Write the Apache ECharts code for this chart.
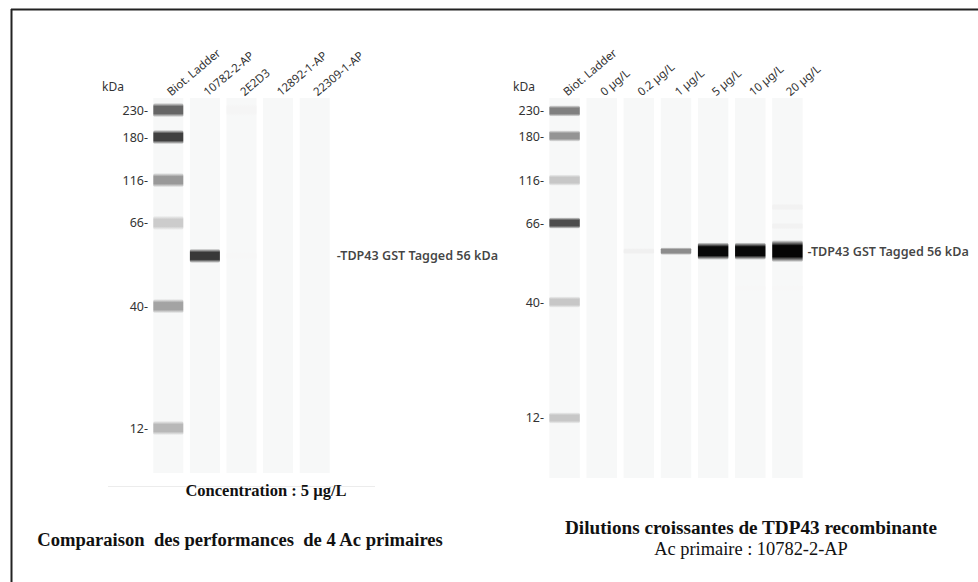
<!DOCTYPE html>
<html>
<head>
<meta charset="utf-8">
<script src="https://cdn.jsdelivr.net/npm/echarts@6/dist/echarts.min.js"></script>
<style>
html,body{margin:0;padding:0;background:#fff;}
#chart{width:978px;height:582px;}
</style>
</head>
<body>
<div id="chart"></div>
<script>
// ---- Data ----
const leftLanes = ['Biot. Ladder', '10782-2-AP', '2E2D3', '12892-1-AP', '22309-1-AP'];
const rightLanes = ['Biot. Ladder', '0 µg/L', '0.2 µg/L', '1 µg/L', '5 µg/L', '10 µg/L', '20 µg/L'];
const ladderKDa = [230, 180, 116, 66, 40, 12];
// migration position of each ladder band (0 = top of capillary, 100 = bottom)
const leftLadderPos = [3.2, 10.4, 21.9, 33.3, 55.5, 88.0];
const leftLadderIntensity = [0.6, 0.75, 0.4, 0.2, 0.36, 0.28];
const rightLadderPos = [3.4, 10.0, 21.6, 32.9, 53.7, 84.2];
const rightLadderIntensity = [0.5, 0.42, 0.22, 0.7, 0.22, 0.22];
// sample bands: [lane, position, intensity, thickness]
const leftSampleBands = [
  [1, 42.1, 0.78, 1.9],
  [2, 3.2, 0.04, 1.6],
  [2, 42.1, 0.03, 1.0]
];
const rightSampleBands = [
  [2, 40.3, 0.06, 0.8],
  [3, 40.3, 0.45, 1.0],
  [4, 40.3, 0.97, 2.3],
  [5, 40.3, 0.97, 2.3],
  [6, 40.3, 0.98, 2.9],
  [6, 28.7, 0.05, 0.9],
  [6, 33.7, 0.05, 0.9],
  [5, 50.0, 0.03, 0.8],
  [6, 50.0, 0.03, 0.8]
];
const ladderThickness = [1.9, 1.5];
const targetLabel = '-TDP43 GST Tagged 56 kDa';
const leftTargetPos = 42.1;
const rightTargetPos = 40.3;

// ---- Build ----
function ladderBands(pos, inten, thick) {
  return pos.map((p, i) => [0, p, inten[i], thick]);
}
function renderBand(params, api) {
  const lane = api.value(0), pos = api.value(1), inten = api.value(2), thick = api.value(3);
  const c = api.coord([lane, pos]);
  const bw = api.size([1, 0])[0] * 0.82;
  const h = api.size([0, thick])[1];
  const g = Math.round(255 * (1 - inten));
  const rgb = 'rgba(' + g + ',' + g + ',' + g + ',';
  return {
    type: 'rect',
    shape: { x: c[0] - bw / 2, y: c[1] - h, width: bw, height: h * 2, r: 2 },
    style: {
      fill: new echarts.graphic.LinearGradient(0, 0, 0, 1, [
        { offset: 0, color: rgb + '0)' },
        { offset: 0.12, color: rgb + '0.5)' },
        { offset: 0.25, color: rgb + '1)' },
        { offset: 0.75, color: rgb + '1)' },
        { offset: 0.88, color: rgb + '0.5)' },
        { offset: 1, color: rgb + '0)' }
      ])
    }
  };
}
function renderLane(params, api) {
  const lane = api.value(0);
  const a = api.coord([lane, 0]);
  const b = api.coord([lane, 100]);
  const bw = api.size([1, 0])[0] * 0.82;
  return {
    type: 'rect',
    shape: { x: a[0] - bw / 2, y: Math.min(a[1], b[1]), width: bw, height: Math.abs(b[1] - a[1]) },
    style: { fill: '#f7f8f8' }
  };
}
function yAxisFor(pos, gridIndex, namePad) {
  return {
    type: 'value', gridIndex: gridIndex, inverse: true, min: 0, max: 100,
    name: 'kDa', nameLocation: 'start', nameGap: 6,
    nameTextStyle: { fontFamily: 'Noto Sans', fontSize: 12, color: '#333', align: 'right', padding: [0, namePad, 0, 0] },
    axisLine: { show: false }, axisTick: { show: false }, splitLine: { show: false },
    axisLabel: {
      customValues: pos, margin: 2, fontFamily: 'Noto Sans', fontSize: 12.5, color: '#333',
      formatter: v => { const i = pos.findIndex(p => Math.abs(p - v) < 1e-6); return (i >= 0 ? ladderKDa[i] : '') + '-'; }
    }
  };
}
function xAxisFor(lanes, gridIndex) {
  return {
    type: 'category', gridIndex: gridIndex, data: lanes, position: 'top',
    axisLine: { show: false }, axisTick: { show: false }, splitLine: { show: false },
    axisLabel: { interval: 0, rotate: 40, margin: 5, fontFamily: 'Noto Sans', fontSize: 11.5, color: '#333' }
  };
}
const chart = echarts.init(document.getElementById('chart'), null, { renderer: 'svg', width: 978, height: 582 });
const labelStyle = { fontFamily: 'Noto Sans', fontSize: 12.6, fontWeight: 600, color: '#111' };
const option = {
  animation: false,
  backgroundColor: '#ffffff',
  grid: [
    { left: 150, top: 98, width: 183, height: 375 },
    { left: 546, top: 98, width: 260, height: 380 }
  ],
  xAxis: [xAxisFor(leftLanes, 0), xAxisFor(rightLanes, 1)],
  yAxis: [yAxisFor(leftLadderPos, 0, 26), yAxisFor(rightLadderPos, 1, 11)],
  series: [
    { type: 'custom', xAxisIndex: 0, yAxisIndex: 0, renderItem: renderLane, data: leftLanes.map((l, i) => [i]), silent: true },
    { type: 'custom', xAxisIndex: 0, yAxisIndex: 0, renderItem: renderBand, data: ladderBands(leftLadderPos, leftLadderIntensity, ladderThickness[0]).concat(leftSampleBands), silent: true },
    { type: 'custom', xAxisIndex: 1, yAxisIndex: 1, renderItem: renderLane, data: rightLanes.map((l, i) => [i]), silent: true },
    { type: 'custom', xAxisIndex: 1, yAxisIndex: 1, renderItem: renderBand, data: ladderBands(rightLadderPos, rightLadderIntensity, ladderThickness[1]).concat(rightSampleBands), silent: true },
    {
      type: 'scatter', xAxisIndex: 0, yAxisIndex: 0, symbolSize: 0, silent: true,
      data: [[leftLanes.length - 1, leftTargetPos]],
      label: Object.assign({ show: true, position: 'right', distance: 22, formatter: targetLabel }, labelStyle)
    },
    {
      type: 'scatter', xAxisIndex: 1, yAxisIndex: 1, symbolSize: 0, silent: true,
      data: [[rightLanes.length - 1, rightTargetPos]],
      label: Object.assign({ show: true, position: 'right', distance: 20, formatter: targetLabel }, labelStyle)
    }
  ],
  graphic: [
    { type: 'line', shape: { x1: 11, y1: 9.5, x2: 978, y2: 9.5 }, style: { stroke: '#222', lineWidth: 2 } },
    { type: 'line', shape: { x1: 11.5, y1: 9, x2: 11.5, y2: 582 }, style: { stroke: '#222', lineWidth: 2 } },
    { type: 'line', shape: { x1: 108, y1: 486.5, x2: 375, y2: 486.5 }, style: { stroke: '#ececec', lineWidth: 1 } },
    { type: 'text', x: 266, y: 490, style: { text: 'Concentration : 5 µg/L', font: 'bold 16.5px "Liberation Serif"', fill: '#111', align: 'center', verticalAlign: 'middle' } },
    { type: 'text', x: 240, y: 539, style: { text: 'Comparaison  des performances  de 4 Ac primaires', font: 'bold 18.6px "Liberation Serif"', fill: '#111', align: 'center', verticalAlign: 'middle' } },
    { type: 'text', x: 751, y: 527, style: { text: 'Dilutions croissantes de TDP43 recombinante', font: 'bold 19.2px "Liberation Serif"', fill: '#111', align: 'center', verticalAlign: 'middle' } },
    { type: 'text', x: 751, y: 549, style: { text: 'Ac primaire : 10782-2-AP', font: '18.4px "Liberation Serif"', fill: '#111', align: 'center', verticalAlign: 'middle' } }
  ]
};
chart.setOption(option);
</script>
</body>
</html>
